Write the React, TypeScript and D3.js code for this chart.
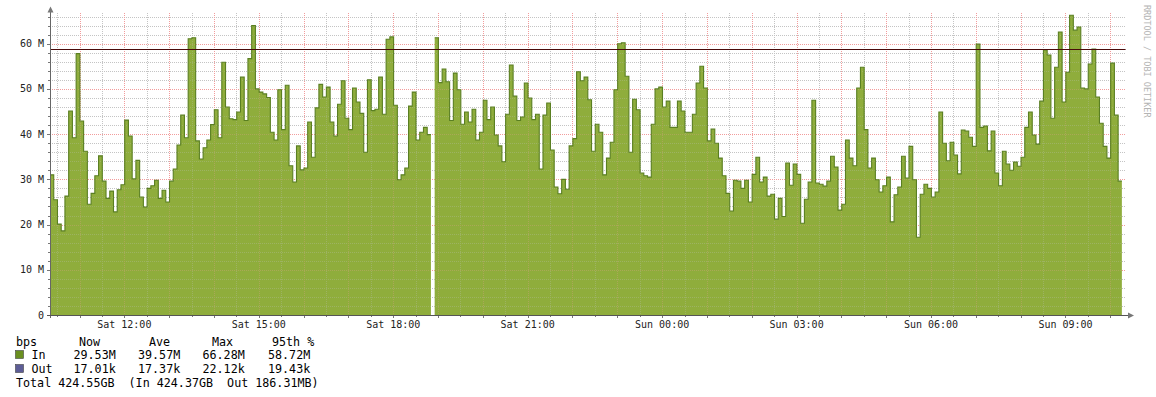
import React from 'react';
import * as d3 from 'd3';

// Inbound traffic, Mbit/s, one value per 5-minute step (null = no data)
const inBps: (number | null)[] = [
  31.0, 25.5, 20.1, 18.6, 26.3, 45.1, 39.2, 57.8, 42.9, 36.2, 24.5, 26.9, 30.8, 35.2, 29.6, 25.8, 27.4, 22.8, 27.7, 28.8, 43.1, 39.6, 30.1, 34.2, 26.1, 23.9, 28.0, 28.6, 29.8, 25.8, 27.6, 25.0, 29.6, 32.3, 37.6, 44.2,
  39.2, 61.1, 61.3, 38.5, 34.5, 37.0, 38.7, 42.1, 45.4, 39.2, 55.9, 46.0, 43.4, 43.2, 44.9, 52.6, 43.0, 56.7, 64.0, 50.0, 49.3, 48.9, 48.1, 40.4, 38.7, 49.8, 41.0, 50.8, 33.0, 29.4, 37.4, 32.1, 32.5, 42.7, 34.9, 45.8, 51.0,
  48.2, 50.4, 42.7, 39.6, 46.6, 51.8, 43.5, 41.0, 50.2, 47.1, 44.6, 36.0, 52.0, 45.2, 45.5, 52.6, 44.4, 61.0, 61.5, 46.4, 29.9, 31.0, 32.5, 46.2, 49.3, 38.7, 40.4, 41.5, 39.9, null, 61.3, 51.4, 54.4, 51.6, 43.0, 53.5,
  49.8, 42.2, 44.9, 42.7, 45.5, 38.7, 40.4, 47.5, 43.2, 46.0, 39.8, 37.4, 33.9, 44.4, 55.3, 48.4, 43.0, 43.8, 51.3, 48.0, 43.2, 44.4, 32.3, 44.2, 46.9, 36.5, 28.3, 26.8, 30.0, 27.8, 37.4, 39.0, 53.8, 51.8, 52.6, 47.6, 36.2,
  42.2, 40.4, 31.0, 34.7, 38.2, 49.8, 60.0, 60.2, 52.8, 36.0, 47.7, 45.4, 31.4, 30.8, 30.5, 42.2, 50.0, 50.4, 46.0, 47.3, 41.5, 41.5, 47.3, 45.1, 40.4, 40.4, 44.4, 51.3, 55.0, 50.2, 38.5, 41.1, 38.0, 34.7, 30.8, 26.9,
  23.0, 29.8, 29.6, 28.0, 29.8, 25.0, 31.1, 34.9, 29.4, 30.5, 26.3, 26.7, 21.2, 25.8, 21.8, 33.6, 28.7, 33.4, 31.1, 20.3, 25.6, 29.4, 47.5, 29.2, 28.9, 28.5, 29.6, 35.1, 32.7, 23.2, 24.5, 38.7, 34.7, 33.0, 50.2, 54.8,
  41.0, 32.5, 34.7, 29.9, 27.2, 28.6, 30.5, 20.6, 26.6, 28.3, 35.1, 30.3, 37.3, 29.9, 17.2, 26.7, 28.9, 28.0, 26.1, 27.2, 44.9, 38.0, 34.1, 38.2, 35.4, 31.2, 40.9, 40.7, 39.3, 37.3, 59.9, 41.5, 41.8, 36.3, 40.7, 31.4,
  28.6, 36.2, 33.4, 32.0, 33.8, 32.9, 34.9, 41.5, 44.9, 39.8, 37.8, 47.3, 58.6, 57.5, 43.5, 54.8, 62.6, 47.1, 53.7, 66.3, 63.0, 63.7, 50.2, 50.0, 55.5, 58.8, 48.2, 42.4, 37.3, 34.7, 55.7, 44.2, 29.6,
];

const percentile95 = 58.72;
const yTickValues = [0, 10, 20, 30, 40, 50, 60];
const yTickLabels = ['0', '10 M', '20 M', '30 M', '40 M', '50 M', '60 M'];

const legendHeader = ['bps', 'Now', 'Ave', 'Max', '95th %'];
const legendIn = ['In', '29.53M', '39.57M', '66.28M', '58.72M'];
const legendOut = ['Out', '17.01k', '17.37k', '22.12k', '19.43k'];
const legendTotal = 'Total 424.55GB  (In 424.37GB  Out 186.31MB)';
const watermark = 'RRDTOOL / TOBI OETIKER';

const W = 1156;
const H = 397;
const MONO = "'DejaVu Sans Mono', monospace";

export default function App() {
  const start = new Date(2020, 0, 4, 10, 20, 30);
  const end = d3.timeHour.offset(start, 24);
  const x = d3.scaleTime().domain([start, end]).range([50, 1125.6]);
  const y = d3.scaleLinear().domain([0, 66.9]).range([315, 12.5]);

  type P = { t: Date; v: number | null };
  const pts: P[] = [];
  inBps.forEach((v, i) => {
    pts.push({ t: d3.timeMinute.offset(start, 5 * i), v });
    pts.push({ t: d3.timeMinute.offset(start, 5 * (i + 1)), v });
  });
  const area = d3
    .area<P>()
    .defined((d) => d.v != null)
    .x((d) => x(d.t))
    .y0(y(0))
    .y1((d) => y(d.v as number));
  const line = d3
    .line<P>()
    .defined((d) => d.v != null)
    .x((d) => x(d.t))
    .y((d) => y(d.v as number));

  const minorY = d3.range(2, 67, 2).filter((v) => v % 10 !== 0);
  const majorY = yTickValues.filter((v) => v > 0);
  const gridTimes = d3.timeMinute.every(30)!.range(start, end);
  const labelTimes = d3.timeHour.every(3)!.range(start, end);
  const fmt = d3.timeFormat('%a %H:%M');

  const colX = [16, 79, 149, 212, 272];
  const colVal = [31.5, 73.5, 138, 202.5, 268];

  const grid = (key: string, op: number) => (
    <g key={key} opacity={op}>
      {minorY.map((v) => (
        <line key={'my' + v} x1={50} x2={1125.6} y1={Math.round(y(v)) + 0.5} y2={Math.round(y(v)) + 0.5}
          stroke="#c4c4c4" strokeDasharray="1,1" />
      ))}
      {gridTimes.map((t) => {
        const major = t.getMinutes() === 0;
        const xx = Math.round(x(t)) + 0.5;
        return (
          <line key={'gx' + t.getTime()} x1={xx} x2={xx} y1={13} y2={315}
            stroke={major ? '#f29c9c' : '#c4c4c4'} strokeDasharray="1,1" />
        );
      })}
      {majorY.map((v) => (
        <line key={'My' + v} x1={50} x2={1125.6} y1={Math.round(y(v)) + 0.5} y2={Math.round(y(v)) + 0.5}
          stroke="#f29c9c" strokeDasharray="1,1" />
      ))}
    </g>
  );

  return (
    <svg width={W} height={H} style={{ position: 'absolute', left: 0, top: 0, background: '#fff' }}>
      <rect x={0} y={0} width={W} height={H} fill="#fff" />
      {grid('g1', 1)}
      <path d={area(pts) || ''} fill="#8fad3c" />
      {grid('g2', 0.28)}
      <path d={line(pts) || ''} fill="none" stroke="#5a7f22" strokeWidth={1.1} />

      {/* 95th percentile */}
      <line x1={50} x2={1125.6} y1={Math.round(y(percentile95)) + 0.5} y2={Math.round(y(percentile95)) + 0.5}
        stroke="#4a0a0a" strokeWidth={1} />

      {/* axes */}
      {d3.range(0, 67, 2).map((v) => (
        <line key={'ty' + v} x1={v % 10 === 0 ? 47 : 48} x2={50} y1={Math.round(y(v)) + 0.5} y2={Math.round(y(v)) + 0.5} stroke="#777" />
      ))}
      {gridTimes.map((t) => {
        const xx = Math.round(x(t)) + 0.5;
        return <line key={'tx' + t.getTime()} x1={xx} x2={xx} y1={315} y2={t.getMinutes() === 0 ? 318 : 317} stroke="#777" />;
      })}
      <line x1={50.5} x2={50.5} y1={11} y2={318} stroke="#666" />
      <line x1={47} x2={1129} y1={315.5} y2={315.5} stroke="#555" />
      <path d="M47.5,12.5 L53.5,12.5 L50.5,6.5 Z" fill="#777" />
      <path d="M1128,312.5 L1128,318.5 L1134,315.5 Z" fill="#777" />

      {/* labels */}
      {yTickValues.map((v, i) => (
        <text key={'yl' + v} x={44} y={y(v) + 3.5} textAnchor="end" fontFamily={MONO} fontSize={10} fill="#222">
          {yTickLabels[i]}
        </text>
      ))}
      {labelTimes.map((t) => (
        <text key={'xl' + t.getTime()} x={x(t)} y={328} textAnchor="middle" fontFamily={MONO} fontSize={10} fill="#222">
          {fmt(t)}
        </text>
      ))}

      <text transform="translate(1144,5) rotate(90)" fontFamily={MONO} fontSize={8.5} fill="#b4b4b4">
        {watermark}
      </text>

      {/* legend */}
      {legendHeader.map((s, i) => (
        <text key={'lh' + i} x={colX[i]} y={345.5} fontFamily={MONO} fontSize={11.7} fill="#000" style={{ whiteSpace: 'pre' }}>
          {s}
        </text>
      ))}
      <rect x={15.5} y={350.5} width={8} height={8} fill="#6a8f1f" stroke="#444" strokeWidth={0.6} />
      <rect x={15.5} y={364.5} width={8} height={8} fill="#5d5d96" stroke="#444" strokeWidth={0.6} />
      {legendIn.map((s, i) => (
        <text key={'li' + i} x={colVal[i]} y={359} fontFamily={MONO} fontSize={11.7} fill="#000">
          {s}
        </text>
      ))}
      {legendOut.map((s, i) => (
        <text key={'lo' + i} x={colVal[i]} y={373} fontFamily={MONO} fontSize={11.7} fill="#000">
          {s}
        </text>
      ))}
      <text x={16} y={387} fontFamily={MONO} fontSize={11.7} fill="#000" style={{ whiteSpace: 'pre' }}>
        {legendTotal}
      </text>
    </svg>
  );
}
